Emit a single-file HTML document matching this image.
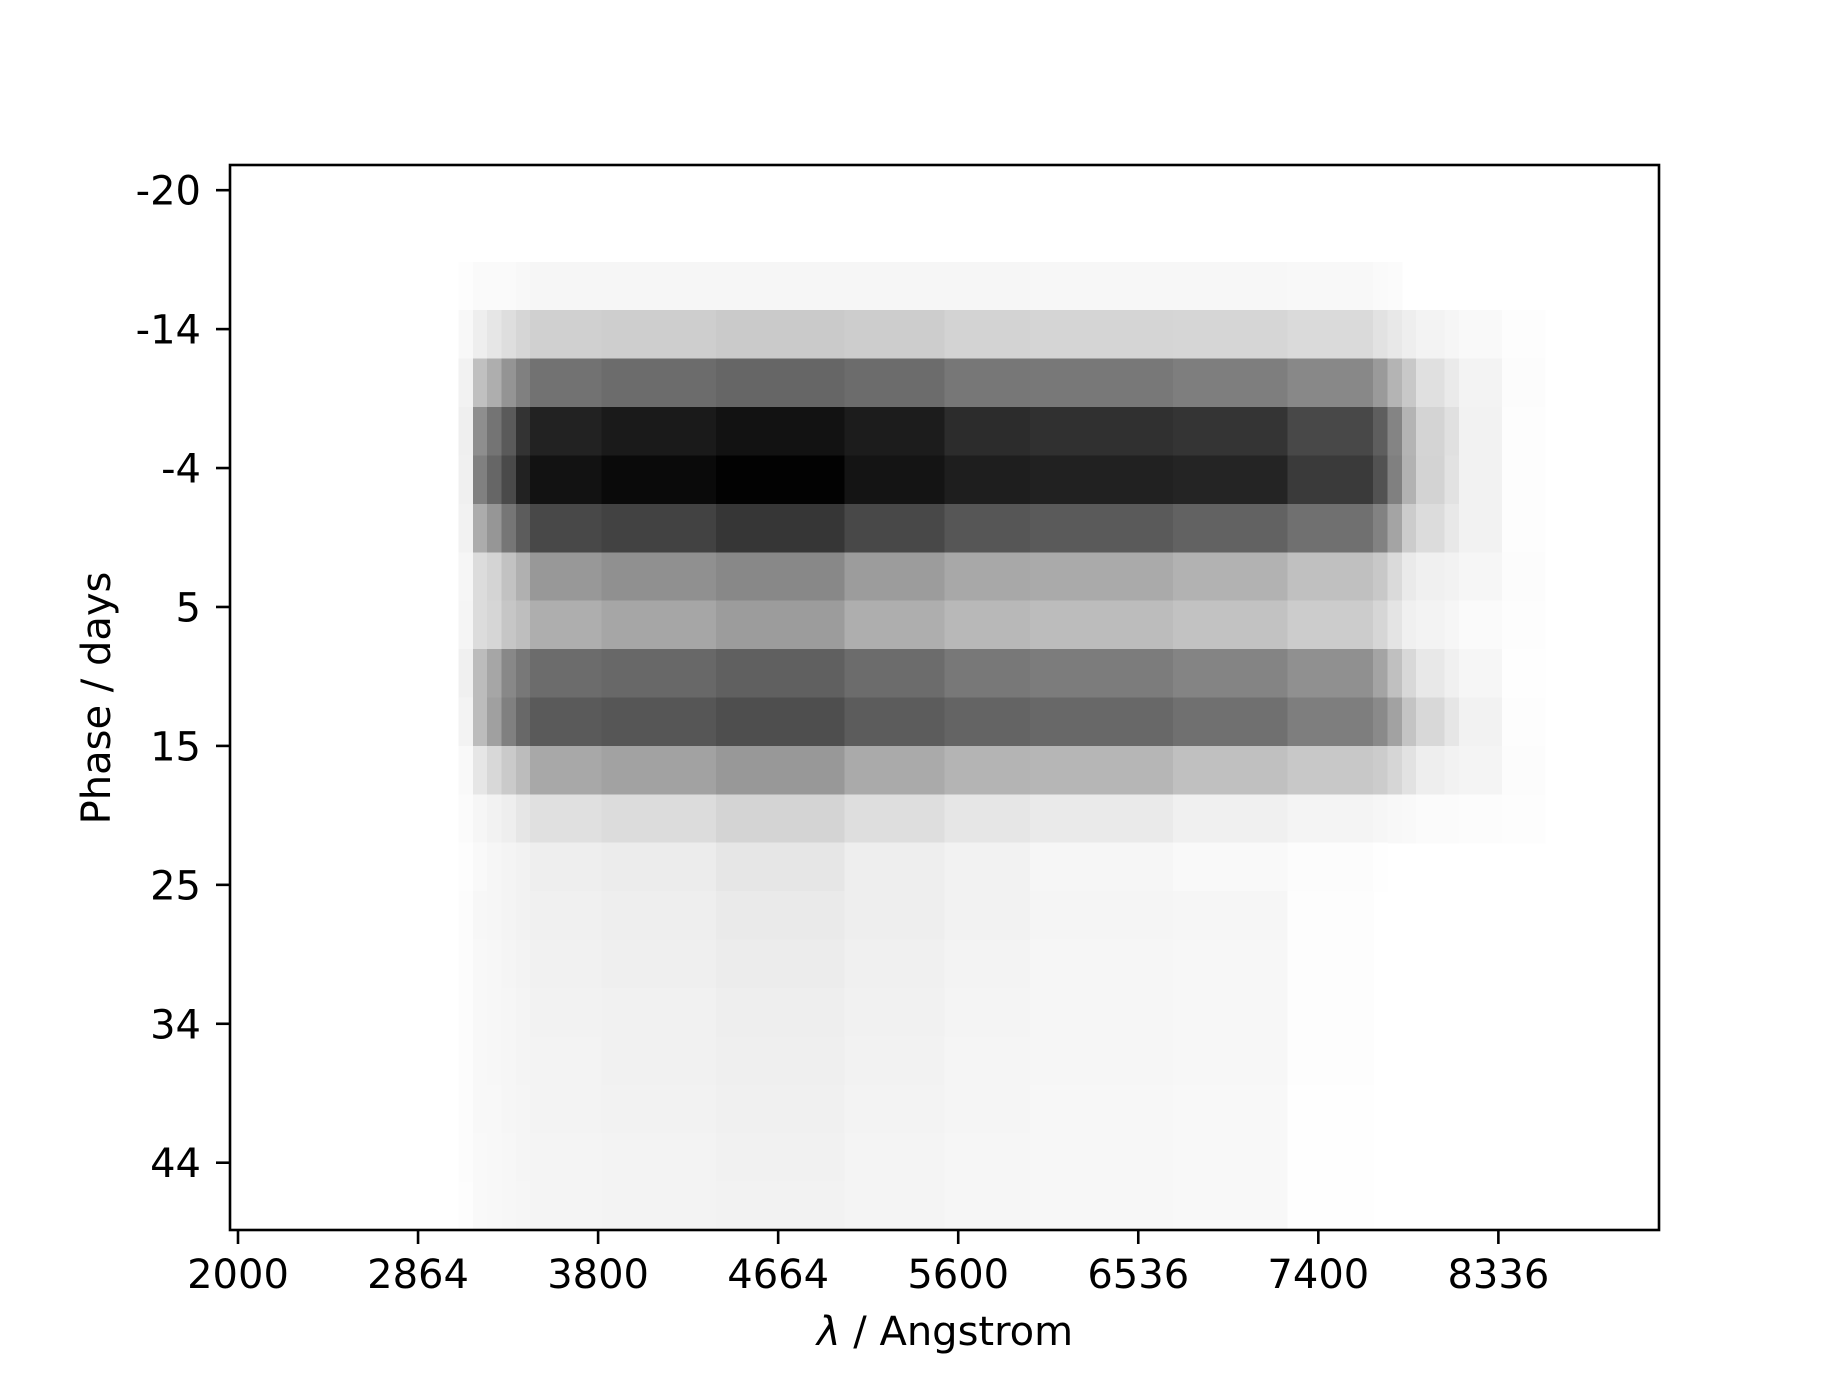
<!DOCTYPE html>
<html><head><meta charset="utf-8"><style>
html,body{margin:0;padding:0;background:#fff;}
svg{display:block;font-family:"DejaVu Sans","Liberation Sans",sans-serif;}
</style></head><body>
<svg id="chart" width="1843" height="1382" viewBox="0 0 1843 1382" xmlns="http://www.w3.org/2000/svg">
<rect x="0" y="0" width="1843" height="1382" fill="#fff"/>
<g id="cells" shape-rendering="crispEdges"></g>
<g id="axes"></g>
</svg>
<script>
const nCols = 100;
const nRows = 22;
// column groups (index ranges, inclusive) for the compressed row data
const groupStart = [16,17,18,19,20,21,26,34,43,50,56,66,74,80,81,82,83,85,86,89];
const groupEnd   = [16,17,18,19,20,25,33,42,49,55,65,73,79,80,81,82,84,85,88,91];
// gray level per row per group (255 = white)
const row0  = [255,255,255,255,255,255,255,255,255,255,255,255,255,255,255,255,255,255,255,255];
const row1  = [255,255,255,255,255,255,255,255,255,255,255,255,255,255,255,255,255,255,255,255];
const row2  = [253,250,250,250,248,246,246,246,246,246,247,247,248,250,251,255,255,255,255,255];
const row3  = [248,238,230,222,214,208,206,202,205,211,213,214,218,226,232,238,243,246,249,253];
const row4  = [242,192,174,148,128,114,108,102,108,119,120,126,136,154,180,200,224,234,243,252];
const row5  = [239,142,116,90,51,34,26,18,28,44,48,52,72,94,132,180,212,224,242,253];
const row6  = [240,128,102,74,34,18,10,2,20,30,33,36,58,82,128,178,211,226,242,253];
const row7  = [242,172,150,118,92,72,66,54,72,86,90,98,112,130,164,204,220,232,242,253];
const row8  = [246,220,212,194,176,152,144,136,156,168,170,178,192,200,218,234,240,242,246,252];
const row9  = [245,220,214,198,190,174,166,156,174,184,188,194,204,214,228,240,243,246,250,253];
const row10 = [240,188,166,136,120,108,104,96,108,120,124,132,144,164,192,216,232,240,246,254];
const row11 = [243,188,160,128,104,90,86,78,92,100,104,112,126,138,162,196,216,230,242,253];
const row12 = [249,230,216,202,188,168,162,152,170,180,182,192,200,204,214,226,238,242,244,252];
const row13 = [251,246,242,238,230,224,220,212,222,230,234,240,244,246,248,249,251,251,252,253];
const row14 = [253,249,246,244,242,238,236,230,238,242,246,249,252,254,255,255,255,255,255,255];
const row15 = [252,247,246,244,242,240,238,234,238,242,245,246,253,255,255,255,255,255,255,255];
const row16 = [252,248,247,245,243,241,239,236,240,243,246,247,253,255,255,255,255,255,255,255];
const row17 = [252,248,247,246,244,242,241,238,241,244,246,247,253,255,255,255,255,255,255,255];
const row18 = [252,248,247,246,244,243,241,239,242,245,246,247,253,255,255,255,255,255,255,255];
const row19 = [252,248,248,246,245,243,242,240,243,245,247,248,254,255,255,255,255,255,255,255];
const row20 = [252,249,248,247,245,244,243,241,244,246,247,248,254,255,255,255,255,255,255,255];
const row21 = [253,249,248,247,246,244,243,242,244,246,247,248,254,255,255,255,255,255,255,255];
const rowsData = [row0,row1,row2,row3,row4,row5,row6,row7,row8,row9,row10,row11,row12,row13,row14,row15,row16,row17,row18,row19,row20,row21];
const xTickLabels = ["2000","2864","3800","4664","5600","6536","7400","8336"];
const xTickIndex = [0.06,12.66,25.26,37.86,50.46,63.06,75.66,88.26];
const yTickLabels = ["-20","-14","-4","5","15","25","34","44"];
const yTickIndex = [0.52,3.39,6.26,9.13,12.0,14.87,17.74,20.61];

const NS = "http://www.w3.org/2000/svg";
const L = 230, R = 1659, T = 165, B = 1230;
const cw = (R - L) / nCols, rh = (B - T) / nRows;
const xPos = i => L + i * cw;
const yPos = j => T + j * rh;
function mk(tag, attrs, parent){const e=document.createElementNS(NS,tag);for(const k in attrs)e.setAttribute(k,attrs[k]);parent.appendChild(e);return e;}
const cells = document.getElementById('cells');
const axes = document.getElementById('axes');
for (let r = 0; r < rowsData.length; r++) {
  for (let g = 0; g < groupStart.length; g++) {
    const v = rowsData[r][g];
    if (v >= 255) continue;
    for (let c = groupStart[g]; c <= groupEnd[g]; c++) {
      const el = mk('rect', {x: xPos(c).toFixed(2), y: yPos(r).toFixed(2), width: (cw+0.6).toFixed(2), height: (rh+0.6).toFixed(2), fill: `rgb(${v},${v},${v})`}, cells);
      
      
    }
  }
}
const frame = mk('rect', {x: L, y: T, width: R - L, height: B - T, fill: 'none', stroke: '#000', 'stroke-width': 2.6}, axes);


xTickLabels.forEach((lab, k) => {
  const x = xPos(xTickIndex[k] + 0.5);
  const t = mk('line', {x1: x, x2: x, y1: B, y2: B + 14, stroke: '#000', 'stroke-width': 2.6}, axes);
  
  
  const tx = mk('text', {x: x, y: 1288, 'font-size': 40, 'text-anchor': 'middle', fill: '#000'}, axes);
  tx.textContent = lab;
  
  
});
yTickLabels.forEach((lab, k) => {
  const y = yPos(yTickIndex[k]);
  const t = mk('line', {x1: L - 14, x2: L, y1: y, y2: y, stroke: '#000', 'stroke-width': 2.6}, axes);
  
  
  const tx = mk('text', {x: 201, y: y + 14.5, 'font-size': 40, 'text-anchor': 'end', fill: '#000'}, axes);
  tx.textContent = lab;
  
  
});
const xl = mk('text', {x: 945, y: 1345, 'font-size': 40, 'text-anchor': 'middle', fill: '#000'}, axes);
xl.innerHTML = '<tspan font-style="italic">λ</tspan> / Angstrom';


const yl = mk('text', {x: 0, y: 0, 'font-size': 40, 'text-anchor': 'middle', fill: '#000', transform: 'translate(110,698) rotate(-90)'}, axes);
yl.textContent = 'Phase / days';


</script>
</body></html>
